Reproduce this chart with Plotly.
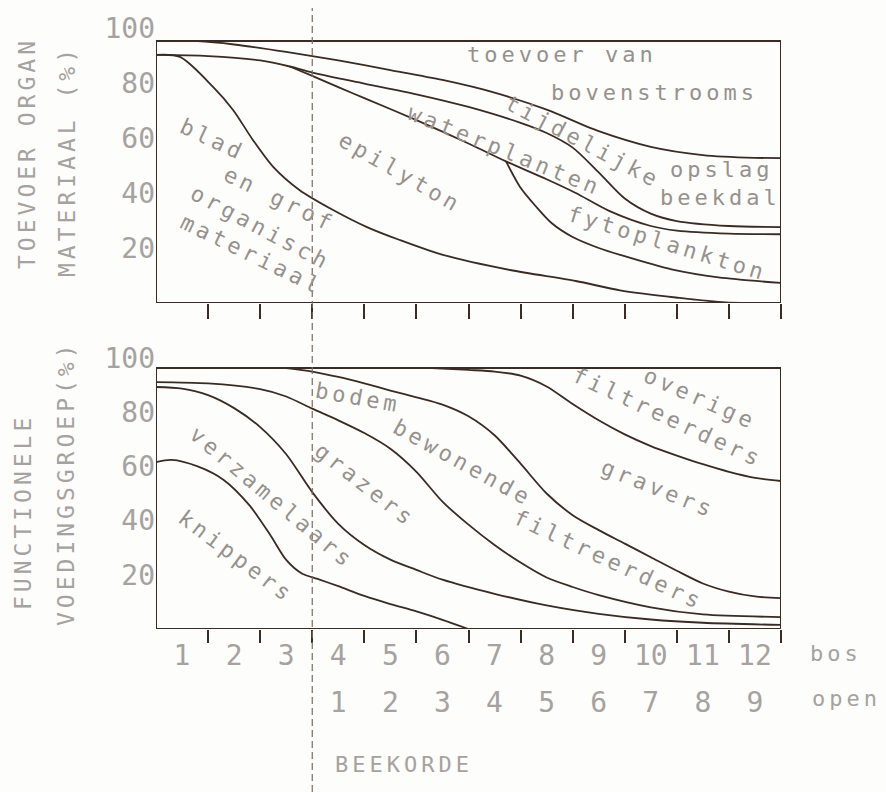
import plotly.graph_objects as go

# ---------------- data ----------------
# top panel: supply of organic material (%), x in "bos" stream-order units
top_A_x = [0.5, 1.3, 2.0, 3.0, 4.0, 5.0, 6.0, 7.0, 8.0, 9.0, 10.0, 11.0, 12.0, 12.5]
top_A_y = [95.3, 95.2, 94.0, 91.3, 88.2, 84.7, 81.1, 76.5, 70.3, 62.5, 56.8, 53.8, 52.8, 52.7]

top_B_x = [0.5, 1.5, 2.5, 3.07, 3.5, 4.5, 5.5, 6.5, 7.5, 8.0, 8.5, 9.0, 9.5, 10.0, 10.5, 11.5, 12.5]
top_B_y = [90.2, 89.8, 88.2, 86.0, 83.8, 79.8, 75.9, 71.3, 65.5, 61.8, 56.5, 47.5, 38.0, 32.5, 29.8, 28.0, 27.6]

top_C_x = [3.07, 3.5, 4.0, 4.5, 5.5, 6.5, 7.22, 8.0, 8.56, 9.2, 10.0, 10.5, 11.5, 12.5]
top_C_y = [86.0, 82.6, 78.5, 74.5, 66.5, 58.0, 51.5, 45.0, 40.0, 33.5, 28.0, 26.3, 25.2, 25.0]

top_E_x = [7.22, 7.49, 7.8, 8.1, 8.5, 9.0, 9.41, 10.4, 11.3, 12.5]
top_E_y = [51.5, 42.2, 35.0, 29.0, 24.0, 20.0, 17.5, 12.2, 9.3, 7.3]

top_D_x = [0.5, 0.96, 1.6, 1.98, 2.36, 2.75, 3.26, 3.9, 4.55, 5.18, 6.01, 7.3, 8.56, 9.41, 10.48, 11.44, 12.5]
top_D_y = [90.2, 89.5, 78.5, 70.2, 59.3, 49.5, 41.0, 33.8, 27.6, 22.9, 17.5, 12.0, 8.0, 4.6, 2.0, 0.2, 0.0]

# bottom panel: functional feeding groups (%)
bot_F_x = [5.8, 6.5, 7.0, 7.5, 8.0, 8.5, 9.0, 9.5, 10.0, 10.5, 11.0, 11.5, 12.0, 12.5]
bot_F_y = [96.3, 95.6, 95.0, 93.5, 89.5, 83.0, 77.0, 71.8, 67.5, 64.0, 60.8, 58.0, 55.8, 54.6]

bot_G_x = [3.0, 3.5, 4.0, 4.5, 5.0, 5.5, 6.0, 6.5, 7.0, 7.5, 8.0, 8.5, 9.0, 9.5, 10.0, 10.5, 11.0, 11.5, 12.0, 12.5]
bot_G_y = [96.3, 95.0, 93.0, 90.6, 88.0, 85.5, 82.8, 78.5, 71.5, 61.0, 50.0, 42.0, 36.5, 31.5, 26.5, 21.5, 16.8, 13.8, 12.0, 11.4]

bot_H_x = [0.5, 1.5, 2.5, 3.0, 3.5, 4.0, 4.5, 5.0, 5.5, 6.0, 6.5, 7.0, 7.5, 8.0, 8.5, 9.0, 10.0, 11.0, 12.5]
bot_H_y = [91.1, 90.6, 88.5, 85.8, 81.3, 77.0, 72.3, 66.5, 58.0, 47.0, 38.5, 31.0, 24.5, 19.0, 15.5, 12.5, 8.0, 5.4, 4.4]

bot_I_x = [0.5, 1.0, 1.5, 2.0, 2.5, 3.0, 3.5, 4.0, 4.5, 5.0, 5.5, 6.0, 7.0, 8.0, 9.0, 10.0, 11.0, 12.5]
bot_I_y = [89.3, 88.7, 86.3, 81.5, 74.5, 64.5, 50.5, 38.8, 31.0, 25.6, 21.8, 18.2, 13.0, 8.7, 5.6, 3.5, 2.3, 1.5]

bot_J_x = [0.5, 0.8, 1.3, 1.8, 2.3, 2.7, 3.0, 3.3, 3.6, 4.0, 4.5, 5.0, 5.5, 6.0, 6.5]
bot_J_y = [61.6, 62.4, 60.0, 55.0, 45.5, 34.5, 25.5, 20.5, 18.5, 15.8, 12.2, 9.2, 6.5, 3.4, 0.0]

# tick labels
y_tickvals = [20, 40, 60, 80, 100]
y_ticktext = ["20", "40", "60", "80", "100"]
bos_vals = [1, 2, 3, 4, 5, 6, 7, 8, 9, 10, 11, 12]
bos_text = ["1", "2", "3", "4", "5", "6", "7", "8", "9", "10", "11", "12"]
open_vals = [4, 5, 6, 7, 8, 9, 10, 11, 12]
open_text = ["1", "2", "3", "4", "5", "6", "7", "8", "9"]
boundary_ticks = [1.5, 2.5, 3.5, 4.5, 5.5, 6.5, 7.5, 8.5, 9.5, 10.5, 11.5, 12.5]

# in-plot labels (text, x, y, angle)
top_labels = [
    ("toevoer van", 8.3, 90.5, 0),
    ("bovenstrooms", 10.08, 76.7, 0),
    ("tijdelijke", 8.7, 58.9, 28),
    ("opslag", 11.35, 48.4, 0),
    ("beekdal", 11.33, 38.2, 0),
    ("waterplanten", 7.2, 55.3, 22),
    ("epilyton", 5.19, 47.3, 30),
    ("fytoplankton", 10.33, 21.8, 17),
    ("blad", 1.58, 59.3, 25),
    ("en grof", 2.88, 37.5, 26),
    ("organisch", 2.5, 27.3, 28),
    ("materiaal", 2.34, 17.5, 26),
]
bot_labels = [
    ("overige", 10.95, 85.2, 24),
    ("filtreerders", 10.33, 77.9, 25),
    ("gravers", 10.14, 52.0, 22),
    ("bodem", 4.38, 85.6, 10),
    ("bewonende", 6.38, 61.3, 29),
    ("filtreerders", 9.18, 25.5, 25),
    ("grazers", 4.53, 53.1, 38),
    ("verzamelaars", 2.73, 48.7, 40),
    ("knippers", 2.04, 26.6, 37),
]

# ---------------- styling ----------------
W, H = 886, 792
LINE = "#3a2b24"
TXT = "#96918d"
TICKTXT = "#a6a29f"
FONT = "DejaVu Sans Mono"
BG = "#fdfdfb"

def py(p):
    return 1 - p / H

def px(p):
    return p / W

fig = go.Figure()

top_curves = [(top_A_x, top_A_y), (top_B_x, top_B_y), (top_C_x, top_C_y),
              (top_E_x, top_E_y), (top_D_x, top_D_y)]
bot_curves = [(bot_F_x, bot_F_y), (bot_G_x, bot_G_y), (bot_H_x, bot_H_y),
              (bot_I_x, bot_I_y), (bot_J_x, bot_J_y)]

for xs, ys in top_curves:
    fig.add_trace(go.Scatter(x=xs, y=ys, mode="lines", xaxis="x", yaxis="y",
                             line=dict(color=LINE, width=1.8, shape="spline", smoothing=0.8),
                             showlegend=False, hoverinfo="skip"))
for xs, ys in bot_curves:
    fig.add_trace(go.Scatter(x=xs, y=ys, mode="lines", xaxis="x2", yaxis="y2",
                             line=dict(color=LINE, width=1.8, shape="spline", smoothing=0.8),
                             showlegend=False, hoverinfo="skip"))
# carriers for the two label rows
fig.add_trace(go.Scatter(x=[None], y=[None], xaxis="x3", yaxis="y2", showlegend=False, hoverinfo="skip"))
fig.add_trace(go.Scatter(x=[None], y=[None], xaxis="x4", yaxis="y2", showlegend=False, hoverinfo="skip"))

xdom = [px(156), px(781)]
top_dom = [py(303), py(28)]
bot_dom = [py(629), py(358)]

common_x = dict(range=[0.5, 12.5], showgrid=False, zeroline=False, showline=False,
                tickmode="array", tickvals=boundary_ticks, showticklabels=False,
                ticks="outside", tickcolor=LINE, tickwidth=2, automargin=False)
common_y = dict(range=[0, 100], showgrid=False, zeroline=False, showline=False,
                tickmode="array", tickvals=y_tickvals, ticktext=y_ticktext, ticks="",
                tickfont=dict(family=FONT, size=28, color=TICKTXT), automargin=False)
row_x = dict(range=[0.5, 12.5], showgrid=False, zeroline=False, showline=False,
             tickmode="array", ticks="", automargin=False, side="bottom",
             tickfont=dict(family=FONT, size=28, color=TICKTXT))

fig.update_layout(
    width=W, height=H,
    margin=dict(l=0, r=0, t=0, b=0, pad=0, autoexpand=False),
    paper_bgcolor=BG, plot_bgcolor=BG,
    xaxis=dict(domain=xdom, anchor="y", ticklen=15, **common_x),
    yaxis=dict(domain=top_dom, anchor="x", **common_y),
    xaxis2=dict(domain=xdom, anchor="y2", ticklen=13, **common_x),
    yaxis2=dict(domain=bot_dom, anchor="x2", **common_y),
    xaxis3=dict(overlaying="x2", anchor="free", position=py(636),
                tickvals=bos_vals, ticktext=bos_text, **row_x),
    xaxis4=dict(overlaying="x2", anchor="free", position=py(683),
                tickvals=open_vals, ticktext=open_text, **row_x),
)

shapes = [
    dict(type="rect", xref="x", yref="y", x0=0.5, x1=12.5, y0=0, y1=95.3,
         line=dict(color=LINE, width=2), layer="above"),
    dict(type="rect", xref="x2", yref="y2", x0=0.5, x1=12.5, y0=0, y1=96.3,
         line=dict(color=LINE, width=2), layer="above"),
    dict(type="line", xref="x", yref="paper", x0=3.5, x1=3.5, y0=0, y1=py(8),
         line=dict(color="#7a6a60", width=1.2, dash="7px,4px")),
]
fig.update_layout(shapes=shapes)

ann = []
for t, x, y, a in top_labels:
    ann.append(dict(text=t, x=x, y=y, xref="x", yref="y", textangle=a, showarrow=False,
                    xanchor="center", yanchor="middle",
                    font=dict(family=FONT, size=22, color=TXT)))
for t, x, y, a in bot_labels:
    ann.append(dict(text=t, x=x, y=y, xref="x2", yref="y2", textangle=a, showarrow=False,
                    xanchor="center", yanchor="middle",
                    font=dict(family=FONT, size=22, color=TXT)))

side_titles = [
    ("TOEVOER ORGAN", 27, 153),
    ("MATERIAAL (%)", 67, 161),
    ("FUNCTIONELE", 23, 512),
    ("VOEDINGSGROEP(%)", 66, 483),
]
for t, x, y in side_titles:
    ann.append(dict(text=t, x=px(x), y=py(y), xref="paper", yref="paper", textangle=-90,
                    xanchor="center", yanchor="middle", showarrow=False,
                    font=dict(family=FONT, size=23, color=TICKTXT)))

for t, x, y in [("bos", 836, 653), ("open", 846, 698), ("BEEKORDE", 404, 764)]:
    ann.append(dict(text=t, x=px(x), y=py(y), xref="paper", yref="paper", showarrow=False,
                    xanchor="center", yanchor="middle",
                    font=dict(family=FONT, size=22, color=TICKTXT)))

fig.update_layout(annotations=ann)

post = """
document.documentElement.style.margin = '0';
document.body.style.margin = '0';
document.body.style.padding = '0';
var gd = document.getElementById('{plot_id}');
function ls(){
  gd.querySelectorAll('.annotation-text').forEach(function(t){ t.style.letterSpacing = '4px'; });
}
ls();
if (gd.on) { gd.on('plotly_afterplot', ls); }
setTimeout(ls, 30);
"""

fig.write_html("out.html", post_script=post, config={"displayModeBar": False})
